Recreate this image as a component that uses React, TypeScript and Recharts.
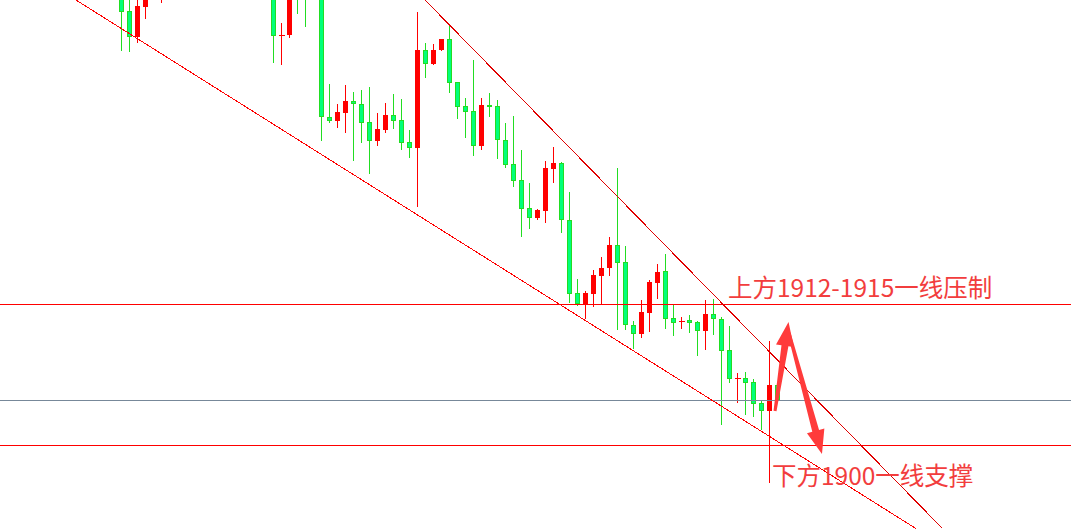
import {
  ComposedChart,
  Bar,
  XAxis,
  YAxis,
  ReferenceLine,
  ReferenceDot,
} from "recharts";

// candle OHLC values (candles above the frame are estimates)
const opens = [
  1945.3, 1943.4, 1940.83, 1943.83, 1945.1, 1945.3, 1946.4, 1947.0, 1946.2, 1946.9,
  1947.8, 1947.0, 1946.1, 1946.8, 1947.6, 1946.8, 1945.9, 1946.5, 1945.8, 1945.0,
  1940.95, 1941.03, 1946.2, 1945.0, 1944.8, 1945.6, 1932.77, 1932.43, 1933.23, 1934.4,
  1934.07, 1932.27, 1930.43, 1931.53, 1933.0, 1932.5, 1930.27, 1929.73, 1939.5, 1938.1,
  1939.5, 1940.6, 1936.3, 1933.9, 1933.4, 1929.93, 1934.0, 1933.9, 1930.5, 1928.1,
  1926.5, 1923.67, 1922.73, 1923.43, 1927.63, 1928.2, 1922.5, 1915.17, 1914.1, 1915.13,
  1916.93, 1917.65, 1920.0, 1918.27, 1911.97, 1911.12, 1913.15, 1916.23, 1917.4, 1912.67,
  1912.3, 1912.5, 1912.3, 1911.43, 1913.1, 1912.6, 1909.5, 1906.6, 1906.67, 1906.27,
  1904.17, 1903.43, 1906.0,
];
const highs = [
  1946.0, 1944.8, 1944.7, 1945.7, 1946.6, 1947.0, 1947.5, 1948.0, 1947.3, 1948.4,
  1948.6, 1947.6, 1947.2, 1948.1, 1948.3, 1947.4, 1946.9, 1947.3, 1946.8, 1945.5,
  1942.23, 1945.1, 1946.6, 1945.8, 1946.0, 1946.2, 1936.1, 1934.1, 1936.0, 1935.3,
  1935.5, 1935.77, 1933.2, 1934.2, 1935.1, 1934.6, 1931.5, 1943.3, 1940.23, 1940.1,
  1940.6, 1942.0, 1936.3, 1934.73, 1938.5, 1934.7, 1935.2, 1934.5, 1932.2, 1932.93,
  1929.5, 1926.23, 1923.6, 1928.4, 1929.77, 1928.3, 1925.3, 1916.63, 1915.4, 1917.5,
  1918.83, 1920.8, 1927.7, 1919.9, 1912.4, 1914.5, 1916.5, 1918.1, 1919.1, 1914.0,
  1912.8, 1913.0, 1912.43, 1914.5, 1914.6, 1912.75, 1911.9, 1907.23, 1907.27, 1906.57,
  1904.4, 1910.43, 1906.1,
];
const lows = [
  1939.43, 1939.33, 1940.17, 1942.57, 1944.6, 1944.23, 1945.6, 1945.9, 1945.2, 1946.3,
  1946.5, 1945.8, 1945.3, 1946.2, 1946.4, 1945.5, 1945.0, 1945.4, 1944.9, 1938.23,
  1938.0, 1940.73, 1943.1, 1941.83, 1944.6, 1930.43, 1932.23, 1931.73, 1931.23, 1928.43,
  1930.17, 1927.13, 1929.93, 1931.23, 1931.57, 1929.5, 1928.73, 1923.83, 1936.7, 1938.0,
  1939.4, 1935.23, 1932.6, 1930.73, 1928.93, 1929.55, 1932.83, 1928.6, 1927.73, 1925.83,
  1920.83, 1921.57, 1922.47, 1922.17, 1926.23, 1921.23, 1914.17, 1913.93, 1912.63, 1913.83,
  1914.1, 1916.9, 1911.5, 1911.5, 1909.6, 1910.67, 1911.3, 1914.63, 1911.6, 1910.92,
  1911.6, 1911.17, 1908.93, 1909.45, 1911.0, 1902.0, 1906.23, 1904.23, 1903.0, 1902.83,
  1901.5, 1896.23, 1904.4,
];
const closes = [
  1943.33, 1940.83, 1943.9, 1945.1, 1946.0, 1946.4, 1947.0, 1946.2, 1946.9, 1947.8,
  1947.0, 1946.1, 1946.8, 1947.6, 1946.8, 1945.9, 1946.5, 1945.8, 1946.2, 1940.93,
  1941.0, 1944.9, 1945.0, 1944.7, 1945.6, 1932.77, 1932.43, 1933.27, 1934.4, 1934.07,
  1932.23, 1930.43, 1931.6, 1933.0, 1932.43, 1930.23, 1929.73, 1939.5, 1938.13, 1939.5,
  1940.6, 1936.23, 1933.83, 1933.33, 1929.93, 1934.0, 1933.83, 1930.45, 1928.05, 1926.43,
  1923.63, 1922.73, 1923.53, 1927.7, 1928.2, 1922.53, 1915.13, 1914.1, 1915.2, 1917.0,
  1917.7, 1920.0, 1918.23, 1912.0, 1911.13, 1913.3, 1916.3, 1917.3, 1912.63, 1912.23,
  1912.4, 1912.23, 1911.43, 1913.1, 1912.57, 1909.43, 1906.6, 1906.67, 1906.23, 1904.13,
  1903.43, 1906.0, 1904.5,
];

// horizontal levels
const resistance = 1914.1;
const midLevel = 1904.5;
const support = 1900;

// channel lines, [index, price] endpoints
const lowerChannel = [
  [-5.69, 1944.5],
  [99.31, 1891.64],
];
const upperChannel = [
  [37.94, 1944.5],
  [102.56, 1891.7],
];

// arrows: [tail, tip] as [index, price]
const arrowUp = [
  [81.69, 1903.4],
  [83.38, 1912.3],
];
const arrowDown = [
  [83.44, 1911.2],
  [87.56, 1899.1],
];

const labels = [
  { text: "上方1912-1915一线压制", at: [75.81, 1915.85] },
  { text: "下方1900一线支撑", at: [81.31, 1897.1] },
];

const X_DOMAIN: [number, number] = [-15.1875, 118.6875];
const Y_DOMAIN: [number, number] = [1891.6, 1944.5];

const candles = opens.map((o, i) => ({
  i,
  open: o,
  high: highs[i],
  low: lows[i],
  close: closes[i],
  range: [lows[i], highs[i]],
}));

const UP = "#ff0000";
const DOWN_FILL = "#00ff7a";
const DOWN_LINE = "#22dd22";

function Candle(props: any) {
  const { x, y, width, height, payload } = props;
  if (x == null || y == null || !payload) return null;
  const top = Math.min(y, y + height);
  const bottom = Math.max(y, y + height);
  const { open, high, low, close } = payload;
  const ppu = (bottom - top) / (high - low);
  const yOf = (v: number) => top + (high - v) * ppu;
  const cx = Math.floor(x + width / 2) + 0.5;
  const up = close >= open;
  const color = up ? UP : DOWN_LINE;
  const bTop = Math.round(yOf(Math.max(open, close)));
  const bBot = Math.round(yOf(Math.min(open, close)));
  const bh = Math.max(bBot - bTop, 1);
  return (
    <g shapeRendering="crispEdges">
      <line x1={cx} x2={cx} y1={Math.round(top)} y2={Math.round(bottom)} stroke={color} strokeWidth={1} />
      {bh <= 1 ? (
        <line x1={cx - 3} x2={cx + 3} y1={bTop + 0.5} y2={bTop + 0.5} stroke={color} strokeWidth={1} />
      ) : (
        <rect
          x={cx - 2}
          y={bTop + 0.5}
          width={4}
          height={bh - 1}
          fill={up ? UP : DOWN_FILL}
          stroke={color}
          strokeWidth={1}
        />
      )}
    </g>
  );
}

function Arrow(props: any) {
  const { x1, y1, x2, y2 } = props;
  if ([x1, y1, x2, y2].some((v) => v == null || isNaN(v))) return null;
  const dx = x2 - x1;
  const dy = y2 - y1;
  const len = Math.sqrt(dx * dx + dy * dy);
  const ux = dx / len;
  const uy = dy / len;
  const nx = -uy;
  const ny = ux;
  const headLen = 24;
  const headHalf = 9;
  const tailHalf = 1.5;
  const neckHalf = 3.5;
  const bx = x2 - ux * headLen;
  const by = y2 - uy * headLen;
  const pts = [
    [x1 + nx * tailHalf, y1 + ny * tailHalf],
    [bx + nx * neckHalf, by + ny * neckHalf],
    [bx + nx * headHalf, by + ny * headHalf],
    [x2, y2],
    [bx - nx * headHalf, by - ny * headHalf],
    [bx - nx * neckHalf, by - ny * neckHalf],
    [x1 - nx * tailHalf, y1 - ny * tailHalf],
  ];
  return <polygon points={pts.map((p) => p.join(",")).join(" ")} fill="#ff3b3b" />;
}

function Note(text: string) {
  return (props: any) => (
    <text
      x={props.cx}
      y={props.cy}
      dominantBaseline="central"
      fill="#f23d3d"
      fontSize={24.5}
      fontFamily="'Noto Sans CJK SC', 'Noto Sans', sans-serif"
    >
      {text}
    </text>
  );
}

const seg = (pts: number[][]) => pts.map(([x, y]) => ({ x, y }));

export default function App() {
  return (
    <div style={{ position: "absolute", left: 0, top: 0, background: "#fff" }}>
      <ComposedChart
        width={1071}
        height={529}
        data={candles}
        margin={{ top: 0, right: 0, bottom: 0, left: 0 }}
      >
        <XAxis type="number" dataKey="i" domain={X_DOMAIN} allowDataOverflow hide />
        <YAxis type="number" domain={Y_DOMAIN} allowDataOverflow hide />
        <ReferenceLine y={resistance} stroke="#ff0000" strokeWidth={1} shapeRendering="crispEdges" />
        <ReferenceLine y={midLevel} stroke="#778899" strokeWidth={1} shapeRendering="crispEdges" />
        <ReferenceLine y={support} stroke="#ff0000" strokeWidth={1} shapeRendering="crispEdges" />
        <ReferenceLine segment={seg(lowerChannel)} stroke="#ff0000" strokeWidth={1} shapeRendering="crispEdges" />
        <ReferenceLine segment={seg(upperChannel)} stroke="#e00000" strokeWidth={1} shapeRendering="crispEdges" />
        <Bar
          dataKey="range"
          barSize={5}
          shape={(p: any) => <Candle {...p} />}
          isAnimationActive={false}
        />
        <ReferenceLine segment={seg(arrowDown)} shape={(p: any) => <Arrow {...p} />} />
        <ReferenceLine segment={seg(arrowUp)} shape={(p: any) => <Arrow {...p} />} />
        {labels.map((l) => (
          <ReferenceDot
            key={l.text}
            x={l.at[0]}
            y={l.at[1]}
            r={0}
            shape={Note(l.text)}
          />
        ))}
      </ComposedChart>
    </div>
  );
}
